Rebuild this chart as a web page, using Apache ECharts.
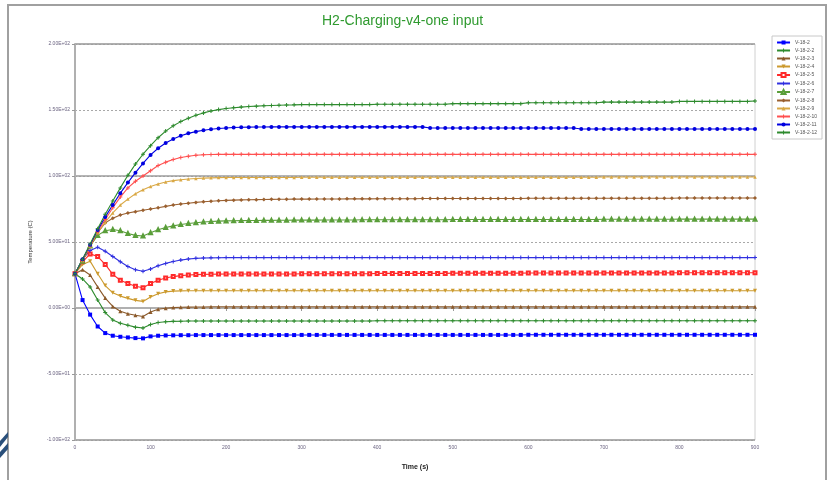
<!DOCTYPE html>
<html>
<head>
<meta charset="utf-8">
<title>H2-Charging-v4-one input</title>
<script src="https://cdn.jsdelivr.net/npm/echarts@6/dist/echarts.min.js"></script>
<style>
  html, body { margin: 0; padding: 0; background: #fff; }
  #chart { width: 829px; height: 480px; }
</style>
</head>
<body>
<div id="chart"></div>
<script>
  // time stamps (s)
  var timeSec = [
    0, 10, 20, 30, 40, 50, 60, 70, 80, 90,
    100, 110, 120, 130, 140, 150, 160, 170, 180, 190,
    200, 210, 220, 230, 240, 250, 260, 270, 280, 290,
    300, 310, 320, 330, 340, 350, 360, 370, 380, 390,
    400, 410, 420, 430, 440, 450, 460, 470, 480, 490,
    500, 510, 520, 530, 540, 550, 560, 570, 580, 590,
    600, 610, 620, 630, 640, 650, 660, 670, 680, 690,
    700, 710, 720, 730, 740, 750, 760, 770, 780, 790,
    800, 810, 820, 830, 840, 850, 860, 870, 880, 890,
    900
  ];

  var seriesNames = [
    'V-18-2', 'V-18-2-2', 'V-18-2-3', 'V-18-2-4', 'V-18-2-5', 'V-18-2-6',
    'V-18-2-7', 'V-18-2-8', 'V-18-2-9', 'V-18-2-10', 'V-18-2-11', 'V-18-2-12'
  ];

  // temperatures (C), one value per time stamp
  var v18_2 = [
    26, 6, -5, -14, -19, -21, -21.8, -22.3, -22.8, -23,
    -21.5, -21, -20.8, -20.7, -20.6, -20.6, -20.5, -20.5, -20.5, -20.5,
    -20.5, -20.5, -20.5, -20.5, -20.5, -20.5, -20.5, -20.5, -20.5, -20.5,
    -20.4, -20.4, -20.4, -20.4, -20.4, -20.4, -20.4, -20.4, -20.4, -20.4,
    -20.4, -20.4, -20.4, -20.4, -20.4, -20.4, -20.4, -20.4, -20.4, -20.4,
    -20.4, -20.4, -20.4, -20.4, -20.4, -20.4, -20.4, -20.4, -20.4, -20.4,
    -20.3, -20.3, -20.3, -20.3, -20.3, -20.3, -20.3, -20.3, -20.3, -20.3,
    -20.3, -20.3, -20.3, -20.3, -20.3, -20.3, -20.3, -20.3, -20.3, -20.3,
    -20.3, -20.3, -20.3, -20.3, -20.3, -20.3, -20.3, -20.3, -20.3, -20.3,
    -20.3
  ];
  var v18_2_2 = [
    26, 22, 16, 6, -3.5, -9, -11.5, -13, -14.5, -15.2,
    -12.5, -11, -10.4, -10.1, -10, -9.9, -9.9, -9.8, -9.8, -9.8,
    -9.8, -9.8, -9.8, -9.8, -9.8, -9.8, -9.8, -9.8, -9.8, -9.8,
    -9.8, -9.8, -9.8, -9.8, -9.8, -9.8, -9.8, -9.8, -9.8, -9.8,
    -9.7, -9.7, -9.7, -9.7, -9.7, -9.7, -9.7, -9.7, -9.7, -9.7,
    -9.7, -9.7, -9.7, -9.7, -9.7, -9.7, -9.7, -9.7, -9.7, -9.7,
    -9.7, -9.7, -9.7, -9.7, -9.7, -9.7, -9.7, -9.7, -9.7, -9.7,
    -9.7, -9.7, -9.7, -9.7, -9.7, -9.7, -9.7, -9.7, -9.7, -9.7,
    -9.7, -9.7, -9.7, -9.7, -9.7, -9.7, -9.7, -9.7, -9.7, -9.7,
    -9.7
  ];
  var v18_2_3 = [
    26, 29, 25, 16, 7.5, 1.2, -2.5, -4.3, -5.5, -6.4,
    -3, -1, -0.2, 0.3, 0.6, 0.7, 0.8, 0.8, 0.9, 0.9,
    0.9, 0.9, 0.9, 0.9, 0.9, 0.9, 0.9, 0.9, 0.9, 0.9,
    0.9, 0.9, 0.9, 0.9, 0.9, 0.9, 0.9, 0.9, 0.9, 0.9,
    0.9, 0.9, 0.9, 0.9, 0.9, 0.9, 0.9, 0.9, 0.9, 0.9,
    0.9, 0.9, 0.9, 0.9, 0.9, 0.9, 0.9, 0.9, 0.9, 0.9,
    1, 1, 1, 1, 1, 1, 1, 1, 1, 1,
    1, 1, 1, 1, 1, 1, 1, 1, 1, 1,
    1, 1, 1, 1, 1, 1, 1, 1, 1, 1,
    1
  ];
  var v18_2_4 = [
    26, 33, 35.5, 26, 17, 11.5, 9, 7.3, 5.8, 5,
    8.3, 10.8, 12.2, 12.8, 13, 13.1, 13.1, 13.1, 13.1, 13.1,
    13.1, 13.1, 13.1, 13.1, 13.1, 13.1, 13.1, 13.1, 13.1, 13.1,
    13.1, 13.1, 13.1, 13.1, 13.1, 13.1, 13.1, 13.1, 13.1, 13.1,
    13.1, 13.1, 13.1, 13.1, 13.1, 13.1, 13.1, 13.1, 13.1, 13.1,
    13.1, 13.1, 13.1, 13.1, 13.1, 13.1, 13.1, 13.1, 13.1, 13.1,
    13.1, 13.1, 13.1, 13.1, 13.1, 13.1, 13.1, 13.1, 13.1, 13.1,
    13.1, 13.1, 13.1, 13.1, 13.1, 13.1, 13.1, 13.1, 13.1, 13.1,
    13.1, 13.1, 13.1, 13.1, 13.1, 13.1, 13.1, 13.1, 13.1, 13.1,
    13.1
  ];
  var v18_2_5 = [
    26, 35, 41, 39, 33, 25.5, 21, 18.5, 16.5, 15.3,
    18.5, 21, 22.7, 23.8, 24.5, 25, 25.3, 25.5, 25.6, 25.7,
    25.8, 25.8, 25.8, 25.8, 25.8, 25.8, 25.8, 25.8, 25.8, 25.8,
    26, 26, 26, 26, 26, 26, 26, 26, 26, 26,
    26.2, 26.2, 26.2, 26.2, 26.2, 26.2, 26.2, 26.2, 26.2, 26.2,
    26.4, 26.4, 26.4, 26.4, 26.4, 26.4, 26.4, 26.4, 26.4, 26.4,
    26.5, 26.5, 26.5, 26.5, 26.5, 26.5, 26.5, 26.5, 26.5, 26.5,
    26.6, 26.6, 26.6, 26.6, 26.6, 26.6, 26.6, 26.6, 26.6, 26.6,
    26.7, 26.7, 26.7, 26.7, 26.7, 26.7, 26.7, 26.7, 26.7, 26.7,
    26.7
  ];
  var v18_2_6 = [
    26, 37, 43.5, 46, 43, 39, 35, 31.5, 29, 27.8,
    29.5, 32, 33.8, 35.2, 36.3, 37.1, 37.6, 37.9, 38, 38.1,
    38.2, 38.2, 38.2, 38.2, 38.2, 38.2, 38.2, 38.2, 38.2, 38.2,
    38.2, 38.2, 38.2, 38.2, 38.2, 38.2, 38.2, 38.2, 38.2, 38.2,
    38.2, 38.2, 38.2, 38.2, 38.2, 38.2, 38.2, 38.2, 38.2, 38.2,
    38.2, 38.2, 38.2, 38.2, 38.2, 38.2, 38.2, 38.2, 38.2, 38.2,
    38.2, 38.2, 38.2, 38.2, 38.2, 38.2, 38.2, 38.2, 38.2, 38.2,
    38.2, 38.2, 38.2, 38.2, 38.2, 38.2, 38.2, 38.2, 38.2, 38.2,
    38.2, 38.2, 38.2, 38.2, 38.2, 38.2, 38.2, 38.2, 38.2, 38.2,
    38.2
  ];
  var v18_2_7 = [
    26, 35.5, 47, 55, 58.5, 59.5, 58.5, 56.5, 55, 54.5,
    57, 59.3, 61, 62.2, 63.2, 64, 64.6, 65.1, 65.5, 65.8,
    66, 66.1, 66.2, 66.3, 66.3, 66.4, 66.4, 66.5, 66.5, 66.6,
    66.6, 66.6, 66.6, 66.7, 66.7, 66.7, 66.7, 66.7, 66.8, 66.8,
    66.8, 66.8, 66.8, 66.9, 66.9, 66.9, 66.9, 66.9, 66.9, 66.9,
    67, 67, 67, 67, 67, 67, 67, 67, 67, 67,
    67.1, 67.1, 67.1, 67.1, 67.1, 67.1, 67.1, 67.1, 67.1, 67.1,
    67.2, 67.2, 67.2, 67.2, 67.2, 67.2, 67.2, 67.2, 67.2, 67.2,
    67.3, 67.3, 67.3, 67.3, 67.3, 67.3, 67.3, 67.3, 67.3, 67.3,
    67.3
  ];
  var v18_2_8 = [
    26, 36, 46.5, 57, 64.5, 68, 70.5, 72, 73, 74,
    75, 76, 77, 78, 78.8, 79.4, 80, 80.5, 80.9, 81.2,
    81.5, 81.7, 81.9, 82, 82.1, 82.2, 82.3, 82.4, 82.4, 82.5,
    82.5, 82.5, 82.6, 82.6, 82.6, 82.6, 82.7, 82.7, 82.7, 82.7,
    82.8, 82.8, 82.8, 82.8, 82.8, 82.8, 82.9, 82.9, 82.9, 82.9,
    82.9, 82.9, 83, 83, 83, 83, 83, 83, 83, 83,
    83.1, 83.1, 83.1, 83.1, 83.1, 83.1, 83.1, 83.1, 83.1, 83.1,
    83.2, 83.2, 83.2, 83.2, 83.2, 83.2, 83.2, 83.2, 83.2, 83.2,
    83.3, 83.3, 83.3, 83.3, 83.3, 83.3, 83.3, 83.3, 83.3, 83.3,
    83.3
  ];
  var v18_2_9 = [
    26, 36, 47, 57, 65, 72, 78, 82.5, 86.5, 89.5,
    92, 94, 95.5, 96.5, 97.2, 97.7, 98.1, 98.4, 98.6, 98.8,
    98.9, 98.9, 98.9, 98.9, 98.9, 98.9, 98.9, 98.9, 98.9, 98.9,
    99, 99, 99, 99, 99, 99, 99, 99, 99, 99,
    99, 99, 99, 99, 99, 99, 99, 99, 99, 99,
    99.1, 99.1, 99.1, 99.1, 99.1, 99.1, 99.1, 99.1, 99.1, 99.1,
    99.1, 99.1, 99.1, 99.1, 99.1, 99.1, 99.1, 99.1, 99.1, 99.1,
    99.2, 99.2, 99.2, 99.2, 99.2, 99.2, 99.2, 99.2, 99.2, 99.2,
    99.2, 99.2, 99.2, 99.2, 99.2, 99.2, 99.2, 99.2, 99.2, 99.2,
    99.2
  ];
  var v18_2_10 = [
    26, 36.5, 47.5, 58, 67, 76, 84, 91, 96, 100,
    104, 108, 110.5, 112.5, 114, 115, 115.7, 116.1, 116.3, 116.4,
    116.4, 116.4, 116.4, 116.4, 116.4, 116.4, 116.4, 116.4, 116.4, 116.4,
    116.4, 116.4, 116.4, 116.4, 116.4, 116.4, 116.4, 116.4, 116.4, 116.4,
    116.4, 116.4, 116.4, 116.4, 116.4, 116.4, 116.4, 116.4, 116.4, 116.4,
    116.4, 116.4, 116.4, 116.4, 116.4, 116.4, 116.4, 116.4, 116.4, 116.4,
    116.4, 116.4, 116.4, 116.4, 116.4, 116.4, 116.4, 116.4, 116.4, 116.4,
    116.4, 116.4, 116.4, 116.4, 116.4, 116.4, 116.4, 116.4, 116.4, 116.4,
    116.4, 116.4, 116.4, 116.4, 116.4, 116.4, 116.4, 116.4, 116.4, 116.4,
    116.4
  ];
  var v18_2_11 = [
    26, 37, 48, 59, 69, 78, 87, 95, 102.5, 109.5,
    116, 121, 125, 128, 130.5, 132.3, 133.6, 134.6, 135.4, 136,
    136.4, 136.7, 136.9, 137, 137.1, 137.1, 137.2, 137.2, 137.2, 137.2,
    137.2, 137.2, 137.2, 137.2, 137.2, 137.2, 137.2, 137.2, 137.2, 137.2,
    137.2, 137.2, 137.2, 137.2, 137.2, 137.2, 137.2, 136.4, 136.4, 136.4,
    136.4, 136.4, 136.4, 136.4, 136.4, 136.4, 136.4, 136.4, 136.4, 136.4,
    136.4, 136.4, 136.4, 136.4, 136.4, 136.4, 136.4, 135.6, 135.6, 135.6,
    135.6, 135.6, 135.6, 135.6, 135.6, 135.6, 135.6, 135.6, 135.6, 135.6,
    135.6, 135.6, 135.6, 135.6, 135.6, 135.6, 135.6, 135.6, 135.6, 135.6,
    135.6
  ];
  var v18_2_12 = [
    26, 37, 48.5, 60, 71, 81, 91, 100.5, 109, 116.5,
    123, 129, 134, 138, 141.2, 143.8, 146, 147.8, 149.2, 150.3,
    151.1, 151.7, 152.2, 152.6, 152.9, 153.2, 153.4, 153.6, 153.8, 153.9,
    154.1, 154.1, 154.1, 154.1, 154.1, 154.1, 154.1, 154.1, 154.1, 154.1,
    154.4, 154.4, 154.4, 154.4, 154.4, 154.4, 154.4, 154.4, 154.4, 154.4,
    154.8, 154.8, 154.8, 154.8, 154.8, 154.8, 154.8, 154.8, 154.8, 154.8,
    155.5, 155.5, 155.5, 155.5, 155.5, 155.5, 155.5, 155.5, 155.5, 155.5,
    156, 156, 156, 156, 156, 156, 156, 156, 156, 156,
    156.5, 156.5, 156.5, 156.5, 156.5, 156.5, 156.5, 156.5, 156.5, 156.5,
    156.8
  ];

  var allValues = [v18_2, v18_2_2, v18_2_3, v18_2_4, v18_2_5, v18_2_6,
                   v18_2_7, v18_2_8, v18_2_9, v18_2_10, v18_2_11, v18_2_12];

  var PLUS = 'path://M3,0H5V3H8V5H5V8H3V5H0V3H3Z';
  var looks = [
    { color: '#0000ff', symbol: 'rect', size: 4 },
    { color: '#2e8b2e', symbol: PLUS, size: 4 },
    { color: '#8b5a2b', symbol: 'triangle', size: 4 },
    { color: '#cc9a2e', symbol: 'triangle', size: 4, rotate: 180 },
    { color: '#ff2a2a', symbol: 'emptyRect', size: 3 },
    { color: '#3030e0', symbol: PLUS, size: 4 },
    { color: '#5a9e3a', symbol: 'emptyTriangle', size: 3 },
    { color: '#9a6030', symbol: 'diamond', size: 4 },
    { color: '#d9a845', symbol: 'triangle', size: 3.5 },
    { color: '#ff5050', symbol: PLUS, size: 4 },
    { color: '#0000e0', symbol: 'circle', size: 4 },
    { color: '#2e8b2e', symbol: PLUS, size: 4 }
  ];

  function sci(v) {
    var s = Number(v).toExponential(2).toUpperCase();
    return s.replace(/E([+-])(\d)$/, 'E$10$2');
  }

  var FONT = '"Liberation Sans", Arial, sans-serif';

  var series = seriesNames.map(function (name, i) {
    return {
      name: name,
      type: 'line',
      yAxisIndex: 0,
      data: timeSec.map(function (t, k) { return [t, allValues[i][k]]; }),
      symbol: looks[i].symbol,
      symbolRotate: looks[i].rotate || 0,
      symbolSize: looks[i].size,
      showSymbol: true,
      itemStyle: { color: looks[i].color, borderWidth: 1 },
      lineStyle: { color: looks[i].color, width: 1.1 },
      animation: false
    };
  });

  var chart = echarts.init(document.getElementById('chart'));
  chart.setOption({
    backgroundColor: '#fff',
    animation: false,
    textStyle: { fontFamily: FONT },
    title: {
      text: 'H2-Charging-v4-one input',
      left: 317,
      top: 9,
      textStyle: { color: '#2f9a2f', fontSize: 14, fontWeight: 'normal', fontFamily: FONT }
    },
    legend: {
      orient: 'vertical',
      right: 7,
      top: 36,
      data: seriesNames,
      itemWidth: 13,
      itemHeight: 5,
      itemGap: 3,
      padding: [4, 5, 4, 4],
      borderColor: '#c8c8c8',
      borderWidth: 1,
      textStyle: { fontSize: 5, color: '#555', fontFamily: FONT }
    },
    grid: {
      left: 75, right: 74, top: 44, bottom: 40,
      show: true, borderColor: '#d0d0d0', borderWidth: 1
    },
    xAxis: {
      type: 'value',
      min: 0, max: 900, interval: 100,
      name: 'Time (s)',
      nameLocation: 'middle',
      nameGap: 24,
      nameTextStyle: { fontSize: 7, color: '#222', fontWeight: 'bold', fontFamily: FONT },
      axisLine: { lineStyle: { color: '#b0b0b0', width: 2 } },
      axisTick: { show: true, length: 3, lineStyle: { color: '#999' } },
      axisLabel: { fontSize: 5, color: '#6a6380', margin: 5 },
      splitLine: { show: false }
    },
    yAxis: [{
      type: 'value',
      min: -100, max: 200, interval: 50,
      name: 'Temperature (C)',
      nameLocation: 'middle',
      nameGap: 42,
      nameTextStyle: { fontSize: 6, color: '#333', fontFamily: FONT },
      axisLine: { show: true, lineStyle: { color: '#b0b0b0', width: 2 } },
      axisTick: { show: true, length: 3, lineStyle: { color: '#999' } },
      axisLabel: { fontSize: 5, color: '#6a6380', margin: 5, formatter: sci },
      splitLine: { show: true, lineStyle: { color: '#a8a8a8', type: [2, 2], width: 1 } }
    }, {
      type: 'value',
      min: -100, max: 200, interval: 100,
      position: 'left',
      axisLine: { show: false },
      axisTick: { show: false },
      axisLabel: { show: false },
      splitLine: { show: true, lineStyle: { color: '#9c9c9c', width: 1.5 } }
    }],
    graphic: [
      {
        type: 'rect',
        shape: { x: 8, y: 5, width: 818, height: 490 },
        style: { fill: 'none', stroke: '#a0a0a0', lineWidth: 2 },
        silent: true, z: -1
      },
      {
        type: 'polygon',
        shape: { points: [[0, 441], [8, 432], [8, 437], [0, 447]] },
        style: { fill: '#2a4f7a' }, silent: true
      },
      {
        type: 'polygon',
        shape: { points: [[0, 452], [8, 443], [8, 449], [0, 458]] },
        style: { fill: '#2a4f7a' }, silent: true
      }
    ],
    series: series
  });
</script>
</body>
</html>
